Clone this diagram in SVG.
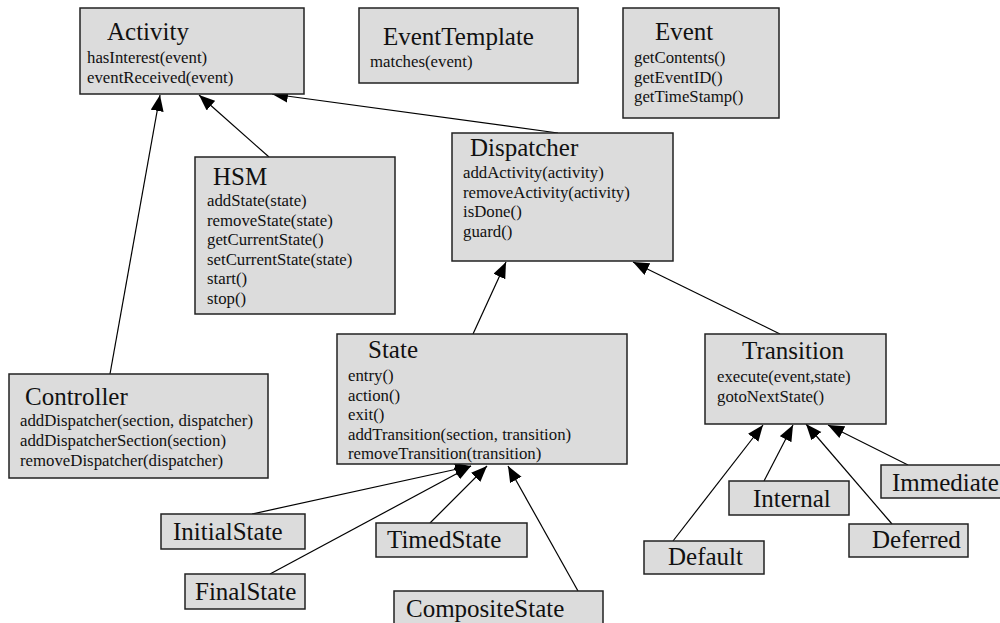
<svg xmlns="http://www.w3.org/2000/svg" width="1000" height="623" viewBox="0 0 1000 623">
  <style>
    .box { fill: #dcdcdc; stroke: #222; stroke-width: 1.5; }
    .title { font-family: 'Liberation Serif', 'DejaVu Serif', Tinos, 'Times New Roman', Times, serif; font-size: 25px; fill: #111; }
    .m { font-family: 'Liberation Serif', 'DejaVu Serif', Tinos, 'Times New Roman', Times, serif; font-size: 16.8px; fill: #111; }
    .edge { stroke: #000; stroke-width: 1.2; fill: none; marker-end: url(#tri); }
  </style>
  <defs>
    <marker id="tri" markerUnits="userSpaceOnUse" markerWidth="17" markerHeight="14" refX="16" refY="6.5" orient="auto">
      <path d="M0,0 L16,6.5 L0,13 z" fill="#000"/>
    </marker>
  </defs>
  <rect width="1000" height="623" fill="#fff"/>

  <g id="connectors">
    <line class="edge" x1="110" y1="374" x2="160" y2="95"/>
    <line class="edge" x1="269" y1="157" x2="199" y2="95"/>
    <line class="edge" x1="558" y1="133" x2="272" y2="94"/>
    <line class="edge" x1="473" y1="334" x2="506" y2="262"/>
    <line class="edge" x1="780" y1="334" x2="633" y2="262"/>
    <line class="edge" x1="252" y1="514" x2="471" y2="466"/>
    <line class="edge" x1="270" y1="574" x2="471" y2="466"/>
    <line class="edge" x1="430" y1="523" x2="487" y2="466"/>
    <line class="edge" x1="578" y1="591" x2="508" y2="466"/>
    <line class="edge" x1="673" y1="541" x2="763" y2="425"/>
    <line class="edge" x1="764" y1="481" x2="793" y2="425"/>
    <line class="edge" x1="892" y1="524" x2="806" y2="424"/>
    <line class="edge" x1="908" y1="465" x2="828" y2="425"/>
  </g>

  <g id="activity">
    <rect class="box" x="80" y="8" width="224" height="86"/>
    <text class="title" x="107" y="40">Activity</text>
    <text class="m" x="87" y="63">hasInterest(event)</text>
    <text class="m" x="87" y="83">eventReceived(event)</text>
  </g>

  <g id="event-template">
    <rect class="box" x="359" y="8" width="219" height="75"/>
    <text class="title" x="383" y="45">EventTemplate</text>
    <text class="m" x="370" y="67">matches(event)</text>
  </g>

  <g id="event">
    <rect class="box" x="623" y="8" width="156" height="110"/>
    <text class="title" x="655" y="40">Event</text>
    <text class="m" x="634" y="63">getContents()</text>
    <text class="m" x="634" y="83">getEventID()</text>
    <text class="m" x="634" y="102">getTimeStamp()</text>
  </g>

  <g id="hsm">
    <rect class="box" x="195" y="157" width="200" height="157"/>
    <text class="title" x="213" y="185">HSM</text>
    <text class="m" x="207" y="206">addState(state)</text>
    <text class="m" x="207" y="225.6">removeState(state)</text>
    <text class="m" x="207" y="245.2">getCurrentState()</text>
    <text class="m" x="207" y="264.8">setCurrentState(state)</text>
    <text class="m" x="207" y="284.4">start()</text>
    <text class="m" x="207" y="304">stop()</text>
  </g>

  <g id="dispatcher">
    <rect class="box" x="452" y="133" width="221" height="128"/>
    <text class="title" x="470" y="156">Dispatcher</text>
    <text class="m" x="463" y="178">addActivity(activity)</text>
    <text class="m" x="463" y="197.5">removeActivity(activity)</text>
    <text class="m" x="463" y="217">isDone()</text>
    <text class="m" x="463" y="236.5">guard()</text>
  </g>

  <g id="controller">
    <rect class="box" x="9" y="374" width="259" height="104"/>
    <text class="title" x="25" y="405">Controller</text>
    <text class="m" x="20" y="426">addDispatcher(section, dispatcher)</text>
    <text class="m" x="20" y="446">addDispatcherSection(section)</text>
    <text class="m" x="20" y="466">removeDispatcher(dispatcher)</text>
  </g>

  <g id="state">
    <rect class="box" x="337" y="334" width="290" height="130"/>
    <text class="title" x="368" y="358">State</text>
    <text class="m" x="348" y="381">entry()</text>
    <text class="m" x="348" y="401">action()</text>
    <text class="m" x="348" y="420">exit()</text>
    <text class="m" x="348" y="440">addTransition(section, transition)</text>
    <text class="m" x="348" y="459">removeTransition(transition)</text>
  </g>

  <g id="transition">
    <rect class="box" x="705" y="334" width="181" height="90"/>
    <text class="title" x="742" y="359">Transition</text>
    <text class="m" x="717" y="382">execute(event,state)</text>
    <text class="m" x="717" y="402">gotoNextState()</text>
  </g>

  <g id="initial-state">
    <rect class="box" x="161" y="514" width="144" height="35"/>
    <text class="title" x="173" y="540">InitialState</text>
  </g>

  <g id="final-state">
    <rect class="box" x="185" y="574" width="120" height="35"/>
    <text class="title" x="195" y="600">FinalState</text>
  </g>

  <g id="timed-state">
    <rect class="box" x="376" y="523" width="151" height="34"/>
    <text class="title" x="387" y="548">TimedState</text>
  </g>

  <g id="composite-state">
    <rect class="box" x="394" y="591" width="209" height="40"/>
    <text class="title" x="406" y="617">CompositeState</text>
  </g>

  <g id="default">
    <rect class="box" x="644" y="541" width="120" height="33"/>
    <text class="title" x="668" y="565">Default</text>
  </g>

  <g id="internal">
    <rect class="box" x="729" y="481" width="120" height="34"/>
    <text class="title" x="753" y="507">Internal</text>
  </g>

  <g id="deferred">
    <rect class="box" x="849" y="524" width="119" height="33"/>
    <text class="title" x="872" y="548">Deferred</text>
  </g>

  <g id="immediate">
    <rect class="box" x="881" y="465" width="130" height="33"/>
    <text class="title" x="892" y="491">Immediate</text>
  </g>
</svg>
